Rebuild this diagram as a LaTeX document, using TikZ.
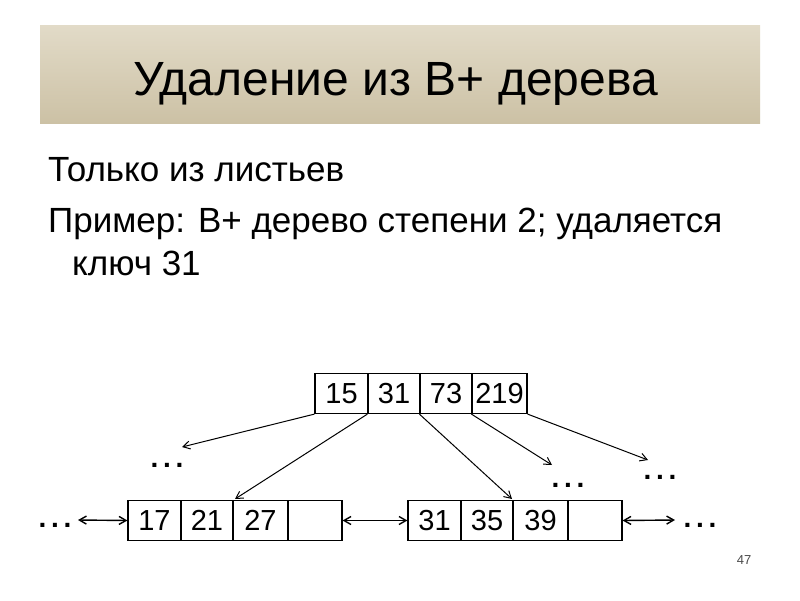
\documentclass[tikz,border=0pt]{standalone}
\usepackage{fontspec}
\setmainfont{Liberation Sans}
\usetikzlibrary{arrows.meta}
\definecolor{bantop}{RGB}{226,219,200}
\definecolor{banbot}{RGB}{204,193,165}
\begin{document}
\begin{tikzpicture}[x=1pt,y=-1pt,
  cell/.style={draw,line width=1.2pt,minimum width=53pt,minimum height=40pt,inner sep=0pt,font=\fontsize{29}{31}\selectfont},
  ptr/.style={-{Straight Barb[length=7pt,width=8pt]},line width=1pt},
  dptr/.style={{Straight Barb[length=7pt,width=8pt]}-{Straight Barb[length=7pt,width=8pt]},line width=1.4pt},
  dots/.style={font=\fontsize{28}{30}\selectfont\bfseries,inner sep=0pt,anchor=base}]
\useasboundingbox (0,0) rectangle (800,600);
\fill[white] (0,0) rectangle (800,600);
\shade[top color=bantop,bottom color=banbot] (40,25) rectangle (760,123);
\node[anchor=base west,inner sep=0pt,font=\fontsize{48}{50}\selectfont] (title) at (133,95) {Удаление из B+ дерева};
\node[anchor=base west,inner sep=0pt,font=\fontsize{35}{37}\selectfont] (l1) at (48,181) {Только из листьев};
\node[anchor=base west,inner sep=0pt,font=\fontsize{35}{37}\selectfont] (l2) at (48,232) {Пример: B+ дерево степени 2; удаляется};
\node[anchor=base west,inner sep=0pt,font=\fontsize{35}{37}\selectfont] (l3) at (72,275) {ключ 31};
% root
\node[cell,minimum width=53pt] (r1) at (341.5,393.5) {15};
\node[cell,minimum width=52pt] (r2) at (394,393.5) {31};
\node[cell,minimum width=52pt] (r3) at (446,393.5) {73};
\node[cell,minimum width=55pt] (r4) at (499.5,393.5) {219};
% left leaf
\node[cell] (a1) at (154.5,520.5) {17};
\node[cell,minimum width=52pt] (a2) at (207,520.5) {21};
\node[cell,minimum width=55pt] (a3) at (260.5,520.5) {27};
\node[cell,minimum width=54pt] (a4) at (315,520.5) {};
% right leaf
\node[cell] (b1) at (434.5,520.5) {31};
\node[cell,minimum width=52pt] (b2) at (487,520.5) {35};
\node[cell,minimum width=55pt] (b3) at (540.5,520.5) {39};
\node[cell,minimum width=54pt] (b4) at (595,520.5) {};
% dots
\node[dots] (d1) at (167,467) {.\,.\,.};
\node[dots] (d2) at (568,487) {.\,.\,.};
\node[dots] (d3) at (660,479) {.\,.\,.};
\node[dots] (d4) at (55,527) {.\,.\,.};
\node[dots] (d5) at (700,527) {.\,.\,.};
\coordinate (e1) at (182,447);
\coordinate (e2) at (552,465);
\coordinate (e3) at (648,460);
\draw[ptr] (r1.south west) -- (e1);
\draw[ptr] (r2.south west) -- (235,499);
\draw[ptr] (r3.south west) -- (512,499);
\draw[ptr] (r4.south west) -- (e2);
\draw[ptr] (r4.south east) -- (e3);
\draw[dptr] (78,520) -- (a1.west);
\draw[dptr] (a4.east) -- (b1.west);
\draw[dptr] (b4.east) -- (675,520);
\node[font=\fontsize{13}{15}\selectfont,text=black!70] (pg) at (744,560) {47};
\end{tikzpicture}
\end{document}
